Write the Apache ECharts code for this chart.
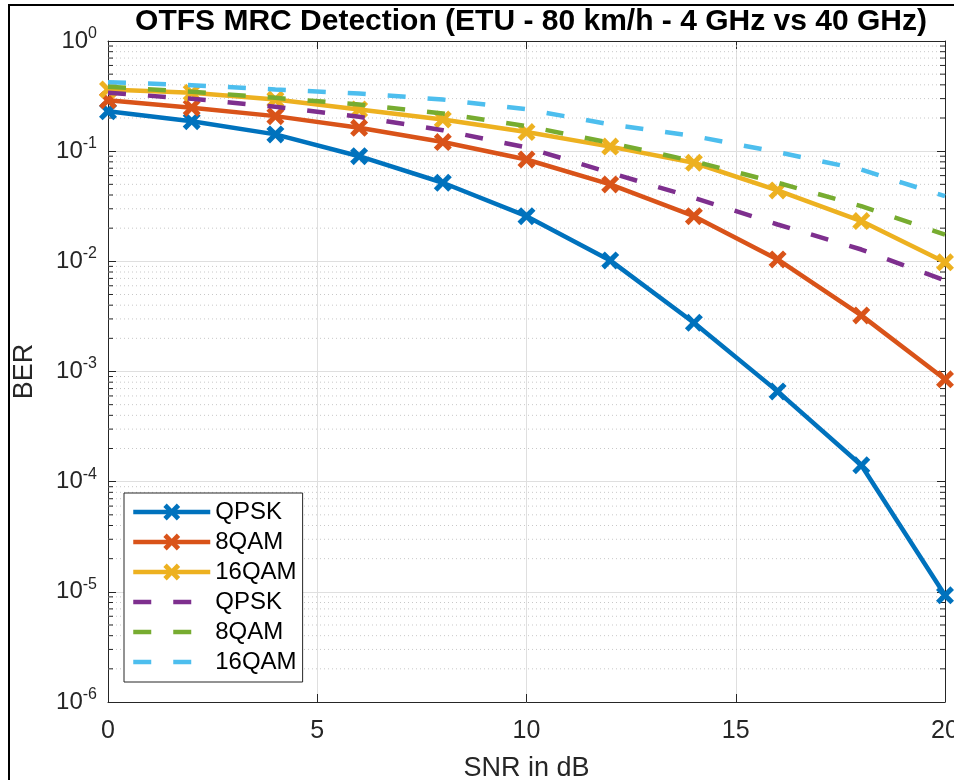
<!DOCTYPE html>
<html>
<head>
<meta charset="utf-8">
<script src="https://cdn.jsdelivr.net/npm/echarts@6/dist/echarts.min.js"></script>
<style>
  html, body { margin: 0; padding: 0; background: #fff; overflow: hidden; }
  #chart { width: 954px; height: 780px; display: block; }
</style>
</head>
<body>
<div id="chart"></div>
<script>
// ---- Data ----
const snr = [0, 2, 4, 6, 8, 10, 12, 14, 16, 18, 20];

const seriesNames = ['QPSK', '8QAM', '16QAM', 'QPSK ', '8QAM ', '16QAM '];

// 4 GHz (solid, markers)
const qpsk4   = [0.23, 0.187, 0.142, 0.090, 0.0517, 0.0257, 0.0102, 0.00277, 0.00066, 0.000141, 0.0000093];
const qam8_4  = [0.29, 0.248, 0.208, 0.163, 0.121, 0.084, 0.0499, 0.0257, 0.0104, 0.00323, 0.00085];
const qam16_4 = [0.363, 0.339, 0.294, 0.239, 0.194, 0.149, 0.110, 0.0785, 0.044, 0.0232, 0.0098];

// 40 GHz (dashed)
const qpsk40   = [0.339, 0.299, 0.253, 0.205, 0.155, 0.108, 0.0637, 0.0378, 0.0216, 0.0128, 0.0067];
const qam8_40  = [0.384, 0.346, 0.305, 0.265, 0.220, 0.169, 0.119, 0.081, 0.0517, 0.0317, 0.0175];
const qam16_40 = [0.423, 0.397, 0.363, 0.334, 0.294, 0.240, 0.175, 0.137, 0.098, 0.068, 0.039];

const xTicks = [0, 5, 10, 15, 20];
const yExponents = [0, -1, -2, -3, -4, -5, -6];

const colors = ['#0072BD', '#D95319', '#EDB120', '#7E2F8E', '#77AC30', '#4DBEEE'];

// minor log tick values (2..9 per decade)
const minorVals = [];
for (let e = -6; e < 0; e++) {
  for (let m = 2; m <= 9; m++) minorVals.push(m * Math.pow(10, e));
}

const xMark = 'path://M0,2 L2,0 L5,3 L8,0 L10,2 L7,5 L10,8 L8,10 L5,7 L2,10 L0,8 L3,5 Z';
const FONT = '"Liberation Sans", Arial, Helvetica, sans-serif';
const AXC = '#262626';

function pairs(ys) { return snr.map((x, i) => [x, ys[i]]); }

function solid(name, ys, color) {
  return {
    name, type: 'line', data: pairs(ys), xAxisIndex: 0, yAxisIndex: 0,
    symbol: xMark, symbolSize: 18, showSymbol: true,
    lineStyle: { color, width: 4.5 },
    itemStyle: { color },
    z: 3, animation: false
  };
}
function dashed(name, ys, color) {
  return {
    name, type: 'line', data: pairs(ys), xAxisIndex: 0, yAxisIndex: 0,
    symbol: 'none', showSymbol: false,
    lineStyle: { color, width: 4.5, type: [18, 22] },
    itemStyle: { color },
    z: 4, animation: false
  };
}

const chart = echarts.init(document.getElementById('chart'), null, { renderer: 'canvas', width: 954, height: 780 });

const yLabelFmt = v => {
  const e = Math.round(Math.log10(v));
  return '{b|10}{s|' + e + '}';
};

const legendData = seriesNames.map((n, i) => i < 3
  ? { name: n }
  : { name: n, itemStyle: { color: 'rgba(0,0,0,0)', opacity: 0, borderWidth: 0 } });

const option = {
  backgroundColor: '#ffffff',
  animation: false,
  title: {
    text: 'OTFS MRC Detection (ETU - 80 km/h - 4 GHz vs 40 GHz)',
    left: 526, top: 2, textAlign: 'center',
    textStyle: { fontFamily: FONT, fontSize: 30, fontWeight: 'bold', color: '#000' }
  },
  grid: { left: 108, right: 9, top: 41, bottom: 78, containLabel: false, outerBoundsMode: 'none' },
  legend: {
    orient: 'vertical',
    left: 124, top: 493,
    data: legendData,
    itemWidth: 77, itemHeight: 21, itemGap: 6,
    padding: [7, 6, 8, 7],
    borderColor: AXC, borderWidth: 1,
    backgroundColor: '#fff',
    lineStyle: { width: 4.5 },
    textStyle: { fontFamily: FONT, fontSize: 24, color: '#000', lineHeight: 24 },
    formatter: n => n.trim()
  },
  xAxis: [
    {
      type: 'value', min: 0, max: 20, interval: 5,
      position: 'bottom',
      axisLine: { show: true, onZero: false, lineStyle: { color: AXC, width: 1 } },
      axisTick: { show: true, inside: true, length: 8, lineStyle: { color: AXC } },
      axisLabel: { fontFamily: FONT, fontSize: 25, color: '#262626', margin: 17, hideOverlap: false },
      splitLine: { show: true, lineStyle: { color: '#dfdfdf', width: 1 } },
      name: 'SNR in dB', nameLocation: 'middle', nameGap: 53,
      nameTextStyle: { fontFamily: FONT, fontSize: 27, color: '#262626' }
    },
    {
      type: 'value', min: 0, max: 20, interval: 5,
      position: 'top',
      axisLine: { show: true, onZero: false, lineStyle: { color: AXC, width: 1 } },
      axisTick: { show: true, inside: true, length: 8, lineStyle: { color: AXC } },
      axisLabel: { show: false },
      splitLine: { show: false }
    }
  ],
  yAxis: [
    {
      type: 'log', logBase: 10, min: 1e-6, max: 1, interval: 1,
      position: 'left',
      axisLine: { show: true, onZero: false, lineStyle: { color: AXC, width: 1 } },
      axisTick: { show: true, inside: true, length: 8, lineStyle: { color: AXC } },
      axisLabel: {
        formatter: yLabelFmt, margin: 11, color: '#262626',
        rich: {
          b: { fontFamily: FONT, fontSize: 24, color: '#262626' },
          s: { fontFamily: FONT, fontSize: 16, color: '#262626', padding: [0, 0, 15, 0] }
        }
      },
      splitLine: { show: true, lineStyle: { color: '#dfdfdf', width: 1 } },
      name: 'BER', nameLocation: 'middle', nameGap: 70, nameRotate: 90,
      nameTextStyle: { fontFamily: FONT, fontSize: 27, color: '#262626' }
    },
    {
      type: 'log', logBase: 10, min: 1e-6, max: 1, interval: 1,
      position: 'right',
      axisLine: { show: true, onZero: false, lineStyle: { color: AXC, width: 1 } },
      axisTick: { show: true, inside: true, length: 8, lineStyle: { color: AXC } },
      axisLabel: { show: false },
      splitLine: { show: false }
    }
  ],
  graphic: [
    { type: 'line', shape: { x1: 9, y1: 5, x2: 9, y2: 780 }, style: { stroke: '#000', lineWidth: 2 }, silent: true },
    { type: 'line', shape: { x1: 8, y1: 5, x2: 954, y2: 5 }, style: { stroke: '#000', lineWidth: 2 }, silent: true }
  ],
  series: [
    {
      name: 'minor', type: 'custom', xAxisIndex: 0, yAxisIndex: 0,
      data: minorVals.map(v => [0, v]),
      silent: true, z: 1, animation: false,
      renderItem: (params, api) => {
        const v = api.value(1);
        const p0 = api.coord([0, v]);
        const p1 = api.coord([20, v]);
        const y = p0[1];
        return {
          type: 'group',
          children: [
            { type: 'line', shape: { x1: p0[0], y1: y, x2: p1[0], y2: y },
              style: { stroke: '#c8c8c8', lineWidth: 1, lineDash: [1, 3] } },
            { type: 'line', shape: { x1: p0[0], y1: y, x2: p0[0] + 5, y2: y },
              style: { stroke: AXC, lineWidth: 1 } },
            { type: 'line', shape: { x1: p1[0] - 5, y1: y, x2: p1[0], y2: y },
              style: { stroke: AXC, lineWidth: 1 } }
          ]
        };
      }
    },
    solid(seriesNames[0], qpsk4, colors[0]),
    solid(seriesNames[1], qam8_4, colors[1]),
    solid(seriesNames[2], qam16_4, colors[2]),
    dashed(seriesNames[3], qpsk40, colors[3]),
    dashed(seriesNames[4], qam8_40, colors[4]),
    dashed(seriesNames[5], qam16_40, colors[5])
  ]
};

chart.setOption(option);
</script>
</body>
</html>
